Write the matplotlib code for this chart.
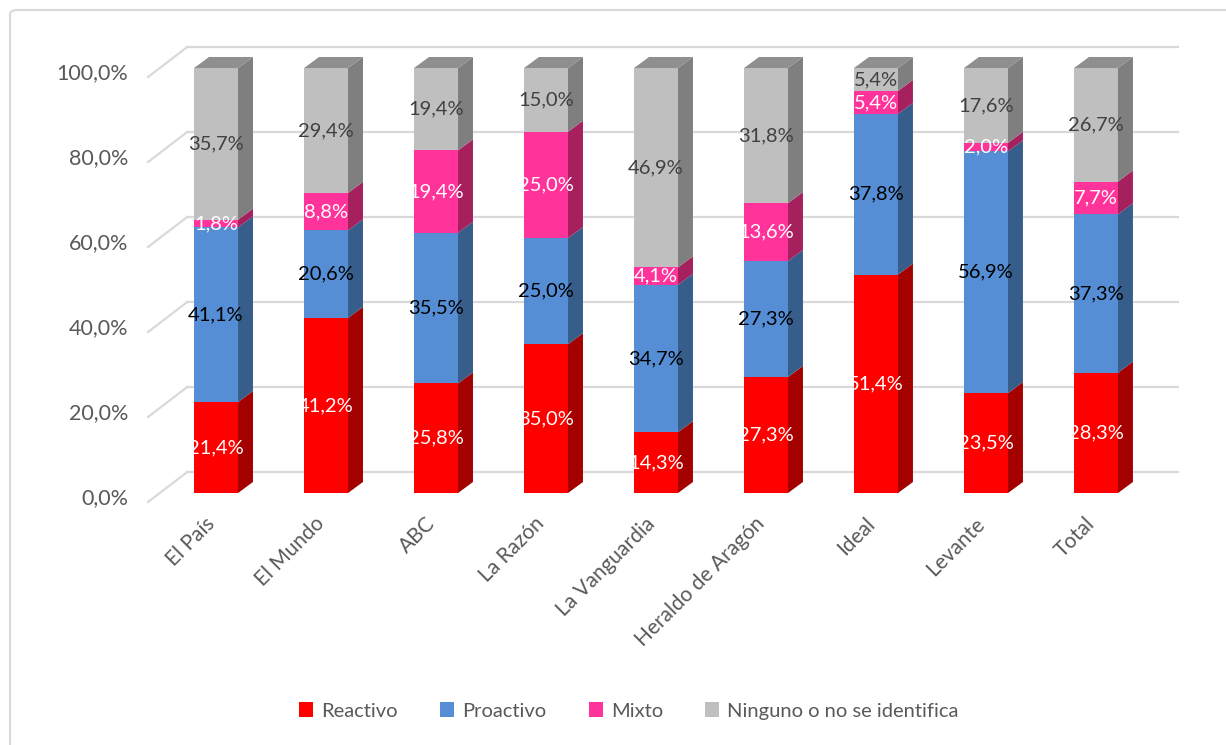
import numpy as np
import matplotlib.pyplot as plt
from matplotlib.patches import Patch, Polygon, FancyBboxPatch

plt.rcParams['font.family'] = ['Lato', 'DejaVu Sans']

categories = ['El País', 'El Mundo', 'ABC', 'La Razón', 'La Vanguardia',
              'Heraldo de Aragón', 'Ideal', 'Levante', 'Total']
series_names = ['Reactivo', 'Proactivo', 'Mixto', 'Ninguno o no se identifica']
reactivo = [21.4, 41.2, 25.8, 35.0, 14.3, 27.3, 51.4, 23.5, 28.3]
proactivo = [41.1, 20.6, 35.5, 25.0, 34.7, 27.3, 37.8, 56.9, 37.3]
mixto = [1.8, 8.8, 19.4, 25.0, 4.1, 13.6, 5.4, 2.0, 7.7]
ninguno = [35.7, 29.4, 19.4, 15.0, 46.9, 31.8, 5.4, 17.6, 26.7]
yticks = [0, 20, 40, 60, 80, 100]

front_colors = ['#FF0000', '#558ED5', '#FF3399', '#BFBFBF']
side_colors = ['#A50000', '#375D8B', '#A6205E', '#7F7F7F']
label_colors = ['white', 'black', 'white', '#404040']
top_color = '#8F8F8F'
grid_color = '#D9D9D9'
text_color = '#595959'

fig = plt.figure(figsize=(12.26, 7.45), dpi=100)
ax = fig.add_axes([0.1134, 0.3211, 0.8613, 0.6332])
ax.set_xlim(-0.7, 8.9)
ax.set_ylim(-3, 108)
ax.axis('off')

# outer chart border
fig.patches.append(FancyBboxPatch((10 / 1226, -0.05), 1.1, 1 - 10 / 745 + 0.05,
                                  boxstyle='round,pad=0,rounding_size=0.006',
                                  transform=fig.transFigure, fill=False,
                                  edgecolor='#D9D9D9', linewidth=1.5))

# back wall gridlines + floor diagonals
gx_front, gx_back, gx_end = -0.618, -0.264, 8.745
for v in yticks:
    ax.plot([gx_front, gx_back], [v - 2.1, v + 4.9], color=grid_color, lw=1.6, zorder=1)
    ax.plot([gx_back, gx_end], [v + 4.9, v + 4.9], color=grid_color, lw=1.6, zorder=1)
    ax.text(-0.8, v - 1.1, f'{v:.1f}%'.replace('.', ','), ha='right', va='center',
            fontsize=15.5, color=text_color, clip_on=False)

data = np.array([reactivo, proactivo, mixto, ninguno])
shares = data / data.sum(axis=0) * 100
x = np.arange(len(categories))
w = 0.4
dx, dy = 0.136, 2.6

bottom = np.zeros(len(categories))
for k in range(len(series_names)):
    h = shares[k]
    ax.bar(x, h, w, bottom=bottom, color=front_colors[k], zorder=3)
    for i in range(len(x)):
        xr = x[i] + w / 2
        y0, y1 = bottom[i], bottom[i] + h[i]
        ax.add_patch(Polygon([(xr, y0), (xr + dx, y0 + dy), (xr + dx, y1 + dy), (xr, y1)],
                             closed=True, facecolor=side_colors[k], edgecolor='none', zorder=3))
        ax.text(x[i], (y0 + y1) / 2, f'{data[k][i]:.1f}%'.replace('.', ','),
                ha='center', va='center', fontsize=14.5, color=label_colors[k], zorder=5)
    bottom = bottom + h

# top faces
for i in range(len(x)):
    xl, xr = x[i] - w / 2, x[i] + w / 2
    t = bottom[i]
    ax.add_patch(Polygon([(xl, t), (xr, t), (xr + dx, t + dy), (xl + dx, t + dy)],
                         closed=True, facecolor=top_color, edgecolor='none', zorder=3))

for i, c in enumerate(categories):
    ax.text(x[i] - 0.04, -6.5, c, ha='right', va='center', rotation=45,
            rotation_mode='anchor', fontsize=15, color=text_color, clip_on=False)

handles = [Patch(facecolor=front_colors[k], label=series_names[k]) for k in range(4)]
fig.legend(handles=handles, loc='center', bbox_to_anchor=(0.513, 0.0456), ncol=4,
           frameon=False, fontsize=14.5, labelcolor=text_color, handlelength=0.7,
           handleheight=0.7, handletextpad=0.4, columnspacing=2.1)

fig.savefig('out.png', dpi=100)
